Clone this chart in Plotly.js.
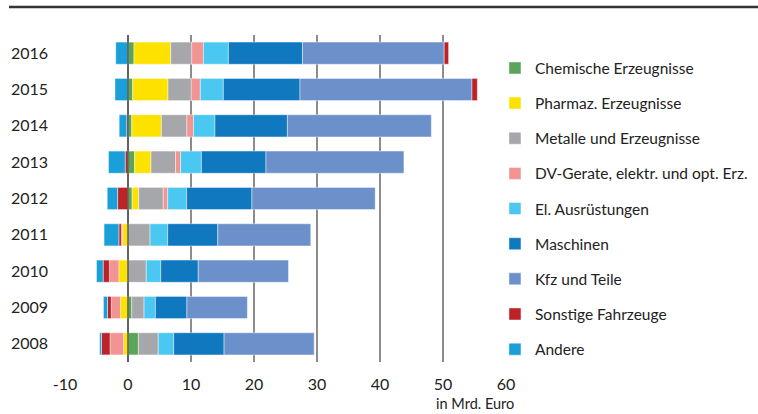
<!DOCTYPE html>
<html>
<head>
<meta charset="utf-8">
<script src="https://cdn.plot.ly/plotly-3.0.1.min.js"></script>
<style>html,body{margin:0;padding:0;background:#fff;}#chart{width:758px;height:414px;}</style>
</head>
<body>
<div id="chart"></div>
<script>
var years = ['2008','2009','2010','2011','2012','2013','2014','2015','2016'];
var seriesNames = ['Chemische Erzeugnisse','Pharmaz. Erzeugnisse','Metalle und Erzeugnisse','DV-Gerate, elektr. und opt. Erz.','El. Ausrüstungen','Maschinen','Kfz und Teile','Sonstige Fahrzeuge','Andere'];
var chemie   = [1.65, 0.6, 0, 0, 0.65, 1.05, 0.6, 0.75, 0.95];
var pharma   = [-0.7, -1.2, -1.45, -0.85, 1.05, 2.6, 4.7, 5.6, 5.83];
var metalle  = [3.15, 1.95, 2.9, 3.5, 3.9, 3.9, 4.05, 3.7, 3.33];
var dvGeraete= [-2.15, -1.45, -1.5, -0.2, 0.7, 0.8, 1.05, 1.43, 1.86];
var elAusr   = [2.45, 1.8, 2.3, 2.8, 3.0, 3.3, 3.4, 3.65, 3.97];
var maschinen= [8.0, 5.0, 5.95, 7.95, 10.37, 10.25, 11.5, 12.17, 11.75];
var kfz      = [14.3, 9.6, 14.33, 14.76, 19.57, 21.9, 22.85, 27.3, 22.5];
var sonstige = [-1.35, -0.6, -1.0, -0.4, -1.65, -0.45, -0.2, 0.85, 0.7];
var andere   = [-0.3, -0.65, -1.05, -2.35, -1.65, -2.65, -1.2, -2.07, -1.95];
var tickVals = [-10, 0, 10, 20, 30, 40, 50, 60];

var values = [chemie, pharma, metalle, dvGeraete, elAusr, maschinen, kfz, sonstige, andere];
var colors = ['#5aa55a','#fde200','#a6a7aa','#f29492','#4ac8f2','#0f78bf','#6b90ca','#bd2228','#1a9fd8'];

var traces = seriesNames.map(function(name, i){
  return {
    type: 'bar', orientation: 'h', name: name,
    y: years, x: values[i],
    legendgroup: 'g' + i, legendrank: i + 1,
    marker: {color: colors[i], line: {color: 'rgba(255,255,255,0.55)', width: 0.8}},
    hoverinfo: 'x+name'
  };
});

var font = 'Lato, "Open Sans", sans-serif';
var layout = {
  width: 758, height: 414,
  margin: {l: 65, r: 252, t: 35, b: 52, autoexpand: false},
  paper_bgcolor: '#fff', plot_bgcolor: '#fff',
  barmode: 'relative', bargap: 0.39,
  font: {family: font, size: 15, color: '#222'},
  showlegend: true,
  legend: {
    x: 0.975, xanchor: 'left', y: 0.95, yanchor: 'top',
    traceorder: 'grouped', tracegroupgap: 12,
    font: {family: font, size: 15.5, color: '#222'},
    itemwidth: 30, bgcolor: 'rgba(0,0,0,0)'
  },
  xaxis: {
    range: [-10, 60], tickvals: tickVals, ticktext: tickVals.map(String),
    showgrid: true, gridcolor: '#8c8c8c', gridwidth: 1.5,
    zeroline: false, showline: false, ticks: '',
    ticklabelstandoff: 11,
    tickfont: {family: font, size: 16, color: '#222'}, fixedrange: true
  },
  yaxis: {
    type: 'category', categoryorder: 'array', categoryarray: years,
    range: [-0.5, 8.5], showgrid: false, zeroline: false, showline: false, ticks: '',
    ticklabelstandoff: 16,
    tickfont: {family: font, size: 16, color: '#222'}, fixedrange: true
  },
  shapes: [
    {type: 'line', xref: 'x', yref: 'paper', x0: 0, x1: 0, y0: 0, y1: 1, layer: 'above', line: {color: '#555', width: 1.5}},
    {type: 'line', xref: 'paper', yref: 'paper', x0: -0.127, x1: 1.6, y0: 1.0856, y1: 1.0856, line: {color: '#333', width: 2.5}}
  ],
  annotations: [
    {text: 'in Mrd. Euro', xref: 'paper', yref: 'paper', x: 0.93, y: -0.097, xanchor: 'center', yanchor: 'top', showarrow: false, borderpad: 0, font: {family: font, size: 14.5, color: '#222'}}
  ]
};

Plotly.newPlot('chart', traces, layout, {displayModeBar: false, staticPlot: true});
</script>
</body>
</html>
